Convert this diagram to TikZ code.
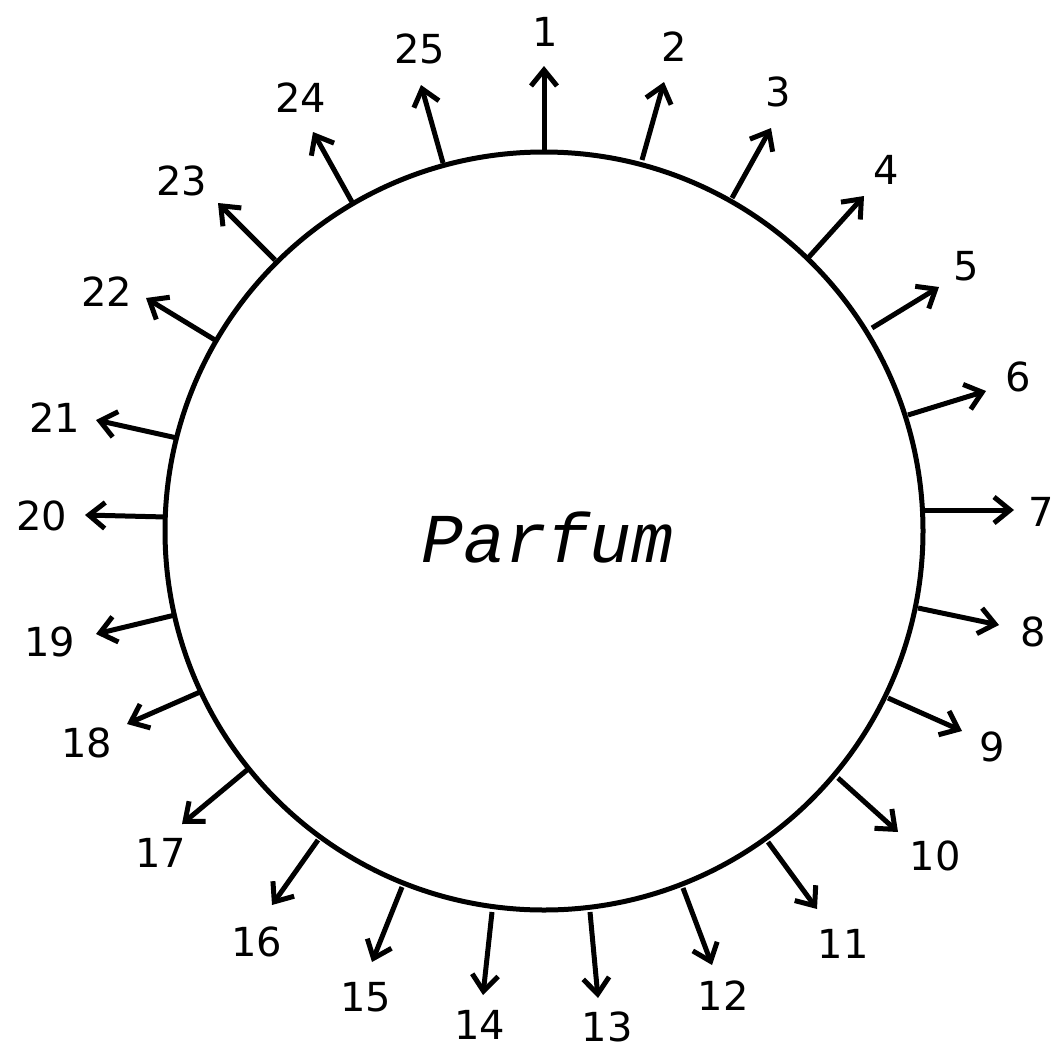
\documentclass[tikz,border=0pt]{standalone}
\usepackage{fontspec}
\setmainfont{DejaVu Sans}
\newfontfamily\parfumfont{Liberation Mono}
\usetikzlibrary{arrows.meta}
\begin{document}
\begin{tikzpicture}[x=1pt,y=-1pt,
  ring/.style={circle,draw,line width=5pt,minimum size=758pt,inner sep=0pt},
  ray/.style={line width=5pt,-{Straight Barb[length=16pt,width=26pt,line width=5pt]}},
  numlabel/.style={font=\fontsize{40}{40}\selectfont,inner sep=0pt}]
\useasboundingbox[fill=white] (0,0) rectangle (1054,1052);
\node[ring] (c) at (544,531) {};
\node[font=\parfumfont\itshape\fontsize{70}{70}\selectfont,inner sep=0pt,anchor=base] (t) at (548,562) {Parfum};
\foreach \n/\bx/\by/\tx/\ty/\lx/\ly in {
  1/544/152/544/66/545/32,
  2/642/160/664/82/674/47,
  3/732/198/771/128/778/92,
  4/808/258/864/196/886/170,
  5/872/328/939/287/966/266,
  6/908/415/986/391/1018/377,
  7/922/510/1014/510/1041/512,
  8/918/608/999/625/1033/632,
  9/888/698/962/731/992/747,
  10/838/778/898/832/935/856,
  11/768/842/817/909/843/944,
  12/683/888/712/965/723/996,
  13/590/912/598/998/607/1027,
  14/492/912/483/995/480/1025,
  15/402/887/372/962/366/997,
  16/318/840/272/905/257/942,
  17/247/770/182/824/161/853,
  18/200/692/127/724/87/743,
  19/175/615/96/634/50/642,
  20/166/517/85/515/42/516,
  21/177/438/96/420/55/418,
  22/215/340/146/298/107/292,
  23/275/260/218/203/182/181,
  24/352/202/313/132/301/98,
  25/443/163/421/85/420/49}{
  \coordinate (b\n) at (\bx,\by);
  \coordinate (e\n) at (\tx,\ty);
  \node[numlabel] (l\n) at (\lx,\ly) {\n};
  \draw[ray] (b\n) -- (e\n);
}
\end{tikzpicture}
\end{document}
